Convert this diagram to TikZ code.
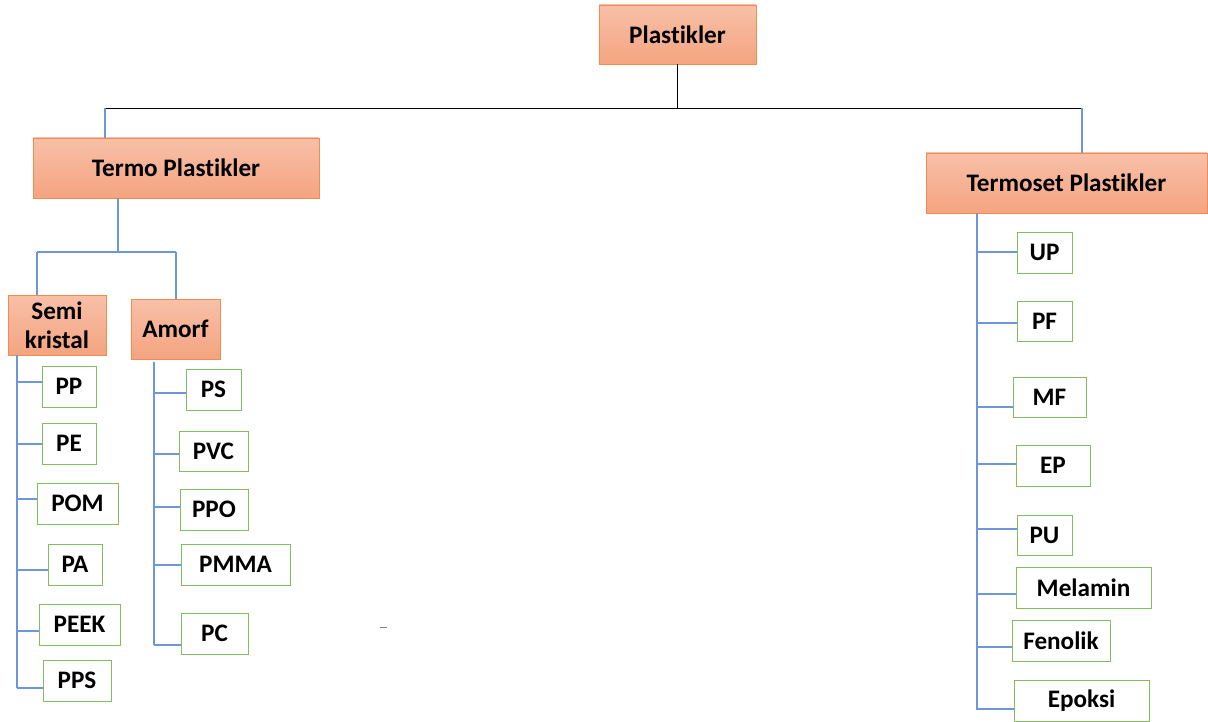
\documentclass[tikz,border=0pt]{standalone}
\usepackage{fontspec}
\setmainfont[Ligatures=NoCommon]{Carlito}
\definecolor{catdraw}{RGB}{240,140,80}
\definecolor{cattop}{RGB}{248,192,168}
\definecolor{catbot}{RGB}{244,164,128}
\definecolor{leafdraw}{RGB}{130,190,95}
\definecolor{bl}{RGB}{110,150,220}
\tikzset{
  cat/.style={draw=catdraw, line width=0.9pt, top color=cattop, bottom color=catbot, inner sep=0pt, align=center, font=\bfseries\fontsize{25.2}{29}\selectfont},
  leaf/.style={draw=leafdraw, line width=0.9pt, fill=white, inner sep=0pt, minimum height=41pt, font=\bfseries\fontsize{25.2}{28}\selectfont},
  blk/.style={draw=black, line width=0.9pt},
  bline/.style={draw=bl, line width=1.1pt},
}
\begin{document}
\begin{tikzpicture}[x=1pt,y=-1pt]
\useasboundingbox (0,0) rectangle (1208,722);
% categories
\node[cat, minimum width=157pt, minimum height=59pt] (root) at (677.5,34.5) {Plastikler};
\node[cat, minimum width=286pt, minimum height=60pt] (termo) at (176,168) {Termo Plastikler};
\node[cat, minimum width=281pt, minimum height=60pt] (termoset) at (1066.5,183) {Termoset Plastikler};
\node[cat, minimum width=98pt, minimum height=60pt] (semi) at (57,325) {Semi\\kristal};
\node[cat, minimum width=89pt, minimum height=60pt] (amorf) at (175.5,329) {Amorf};
% semi kristal leaves
\node[leaf, minimum width=54pt] (pp) at (69,386.5) {PP};
\node[leaf, minimum width=54pt] (pe) at (69,443.5) {PE};
\node[leaf, minimum width=81pt] (pom) at (77.5,503.5) {POM};
\node[leaf, minimum width=54pt] (pa) at (75,564.5) {PA};
\node[leaf, minimum width=81pt] (peek) at (79.5,624.5) {PEEK};
\node[leaf, minimum width=68pt] (pps) at (77,680.5) {PPS};
% amorf leaves
\node[leaf, minimum width=55pt] (ps) at (213.5,389.5) {PS};
\node[leaf, minimum width=69pt, minimum height=40pt] (pvc) at (213.5,451) {PVC};
\node[leaf, minimum width=68pt] (ppo) at (214,509.5) {PPO};
\node[leaf, minimum width=109pt] (pmma) at (235.5,564.5) {PMMA};
\node[leaf, minimum width=67pt] (pc) at (214.5,633.5) {PC};
% termoset leaves
\node[leaf, minimum width=55pt] (up) at (1044.5,252.5) {UP};
\node[leaf, minimum width=55pt, minimum height=40pt] (pf) at (1044.5,321) {PF};
\node[leaf, minimum width=73pt, minimum height=40pt] (mf) at (1049.5,397) {MF};
\node[leaf, minimum width=74pt] (ep) at (1053,465.5) {EP};
\node[leaf, minimum width=55pt, minimum height=40pt] (pu) at (1044.5,535) {PU};
\node[leaf, minimum width=135pt] (melamin) at (1083.5,587.5) {Melamin};
\node[leaf, minimum width=98pt] (fenolik) at (1061,640.5) {Fenolik};
\node[leaf, minimum width=135pt] (epoksi) at (1081.5,700.5) {Epoksi};
% top connectors
\coordinate (hl) at (105,108);
\coordinate (hr) at (1082,108);
\coordinate (hm) at (root.south |- hl);
\draw[blk] (root.south) -- (hm);
\draw[blk] (hl) -- (hr);
\draw[bline] (hl) -- (hl |- termo.north);
\draw[bline] (hr) -- (hr |- termoset.north);
% termo split
\coordinate (tb) at (118,252);
\coordinate (tl) at (37,252);
\coordinate (tr) at (176,252);
\draw[bline] (tb |- termo.south) -- (tb);
\draw[bline] (tl) -- (tr);
\draw[bline] (tl) -- (tl |- semi.north);
\draw[bline] (tr) -- (tr |- amorf.north);
% semi kristal spine
\coordinate (s0) at (17,355);
\coordinate (s1) at (17,382);
\coordinate (s2) at (17,444);
\coordinate (s3) at (17,499);
\coordinate (s4) at (17,570);
\coordinate (s5) at (17,631);
\coordinate (s6) at (17,688);
\draw[bline] (s0) -- (s6);
\draw[bline] (s1) -- (s1 -| pp.west);
\draw[bline] (s2) -- (s2 -| pe.west);
\draw[bline] (s3) -- (s3 -| pom.west);
\draw[bline] (s4) -- (s4 -| pa.west);
\draw[bline] (s5) -- (s5 -| peek.west);
\draw[bline] (s6) -- (s6 -| pps.west);
% amorf spine
\coordinate (a0) at (154,362);
\coordinate (a1) at (154,393);
\coordinate (a2) at (154,454);
\coordinate (a3) at (154,507);
\coordinate (a4) at (154,565);
\coordinate (a5) at (154,645);
\draw[bline] (a0) -- (a5);
\draw[bline] (a1) -- (a1 -| ps.west);
\draw[bline] (a2) -- (a2 -| pvc.west);
\draw[bline] (a3) -- (a3 -| ppo.west);
\draw[bline] (a4) -- (a4 -| pmma.west);
\draw[bline] (a5) -- (a5 -| pc.west);
% termoset spine
\coordinate (t0) at (977,213);
\coordinate (t1) at (977,252);
\coordinate (t2) at (977,323);
\coordinate (t3) at (977,407);
\coordinate (t4) at (977,464);
\coordinate (t5) at (977,529);
\coordinate (t6) at (977,594);
\coordinate (t7) at (976,647);
\coordinate (t8) at (976,709);
\draw[bline] (t0) -- (977,709);
\draw[bline] (t1) -- (t1 -| up.west);
\draw[bline] (t2) -- (t2 -| pf.west);
\draw[bline] (t3) -- (t3 -| mf.west);
\draw[bline] (t4) -- (t4 -| ep.west);
\draw[bline] (t5) -- (t5 -| pu.west);
\draw[bline] (t6) -- (t6 -| melamin.west);
\draw[bline] (t7) -- (t7 -| fenolik.west);
\draw[bline] (t8) -- (t8 -| epoksi.west);
% stray mark
\draw[draw=gray, line width=0.8pt] (380,627) -- (387,627);
\end{tikzpicture}
\end{document}
